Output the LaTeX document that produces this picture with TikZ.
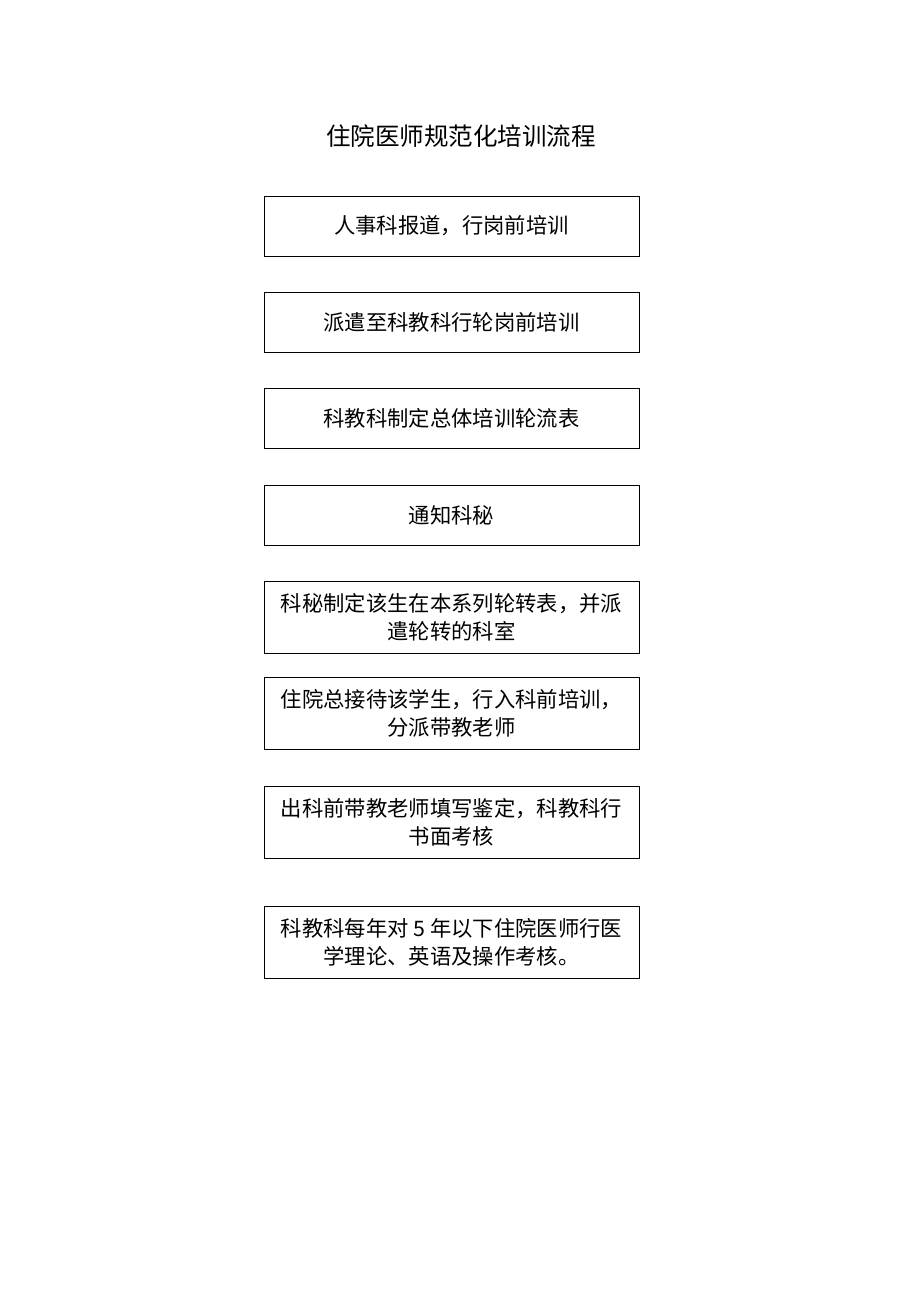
\documentclass[tikz,border=0pt]{standalone}
\usepackage{fontspec}
\newfontfamily\cjk{Noto Sans CJK SC}
\usetikzlibrary{positioning}

\begin{document}
\begin{tikzpicture}[
    x=0.75pt, y=-0.75pt,
    box/.style={rectangle, draw, line width=0.6pt, minimum width=281.25pt, minimum height=45pt, align=center, font=\cjk\fontsize{16}{21}\selectfont},
    tallbox/.style={box, minimum height=54pt}
]
\useasboundingbox (0,0) rectangle (920,1302);

\node[font=\cjk\fontsize{18.4}{22}\selectfont] (title) at (461,136) {住院医师规范化培训流程};

\node[box] (report) at (451.5,226) {人事科报道，行岗前培训};
\node[box] (dispatch) at (451.5,322) {派遣至科教科行轮岗前培训};
\node[box] (rota) at (451.5,418) {科教科制定总体培训轮流表};
\node[box] (notify) at (451.5,515) {通知科秘};
\node[tallbox] (secretary) at (451.5,617) {科秘制定该生在本系列轮转表，并派\\遣轮转的科室};
\node[tallbox] (chief) at (451.5,713) {住院总接待该学生，行入科前培训，\\分派带教老师};
\node[tallbox] (assess) at (451.5,822) {出科前带教老师填写鉴定，科教科行\\书面考核};
\node[tallbox] (annual) at (451.5,942) {科教科每年对 5 年以下住院医师行医\\学理论、英语及操作考核。};
\end{tikzpicture}
\end{document}
